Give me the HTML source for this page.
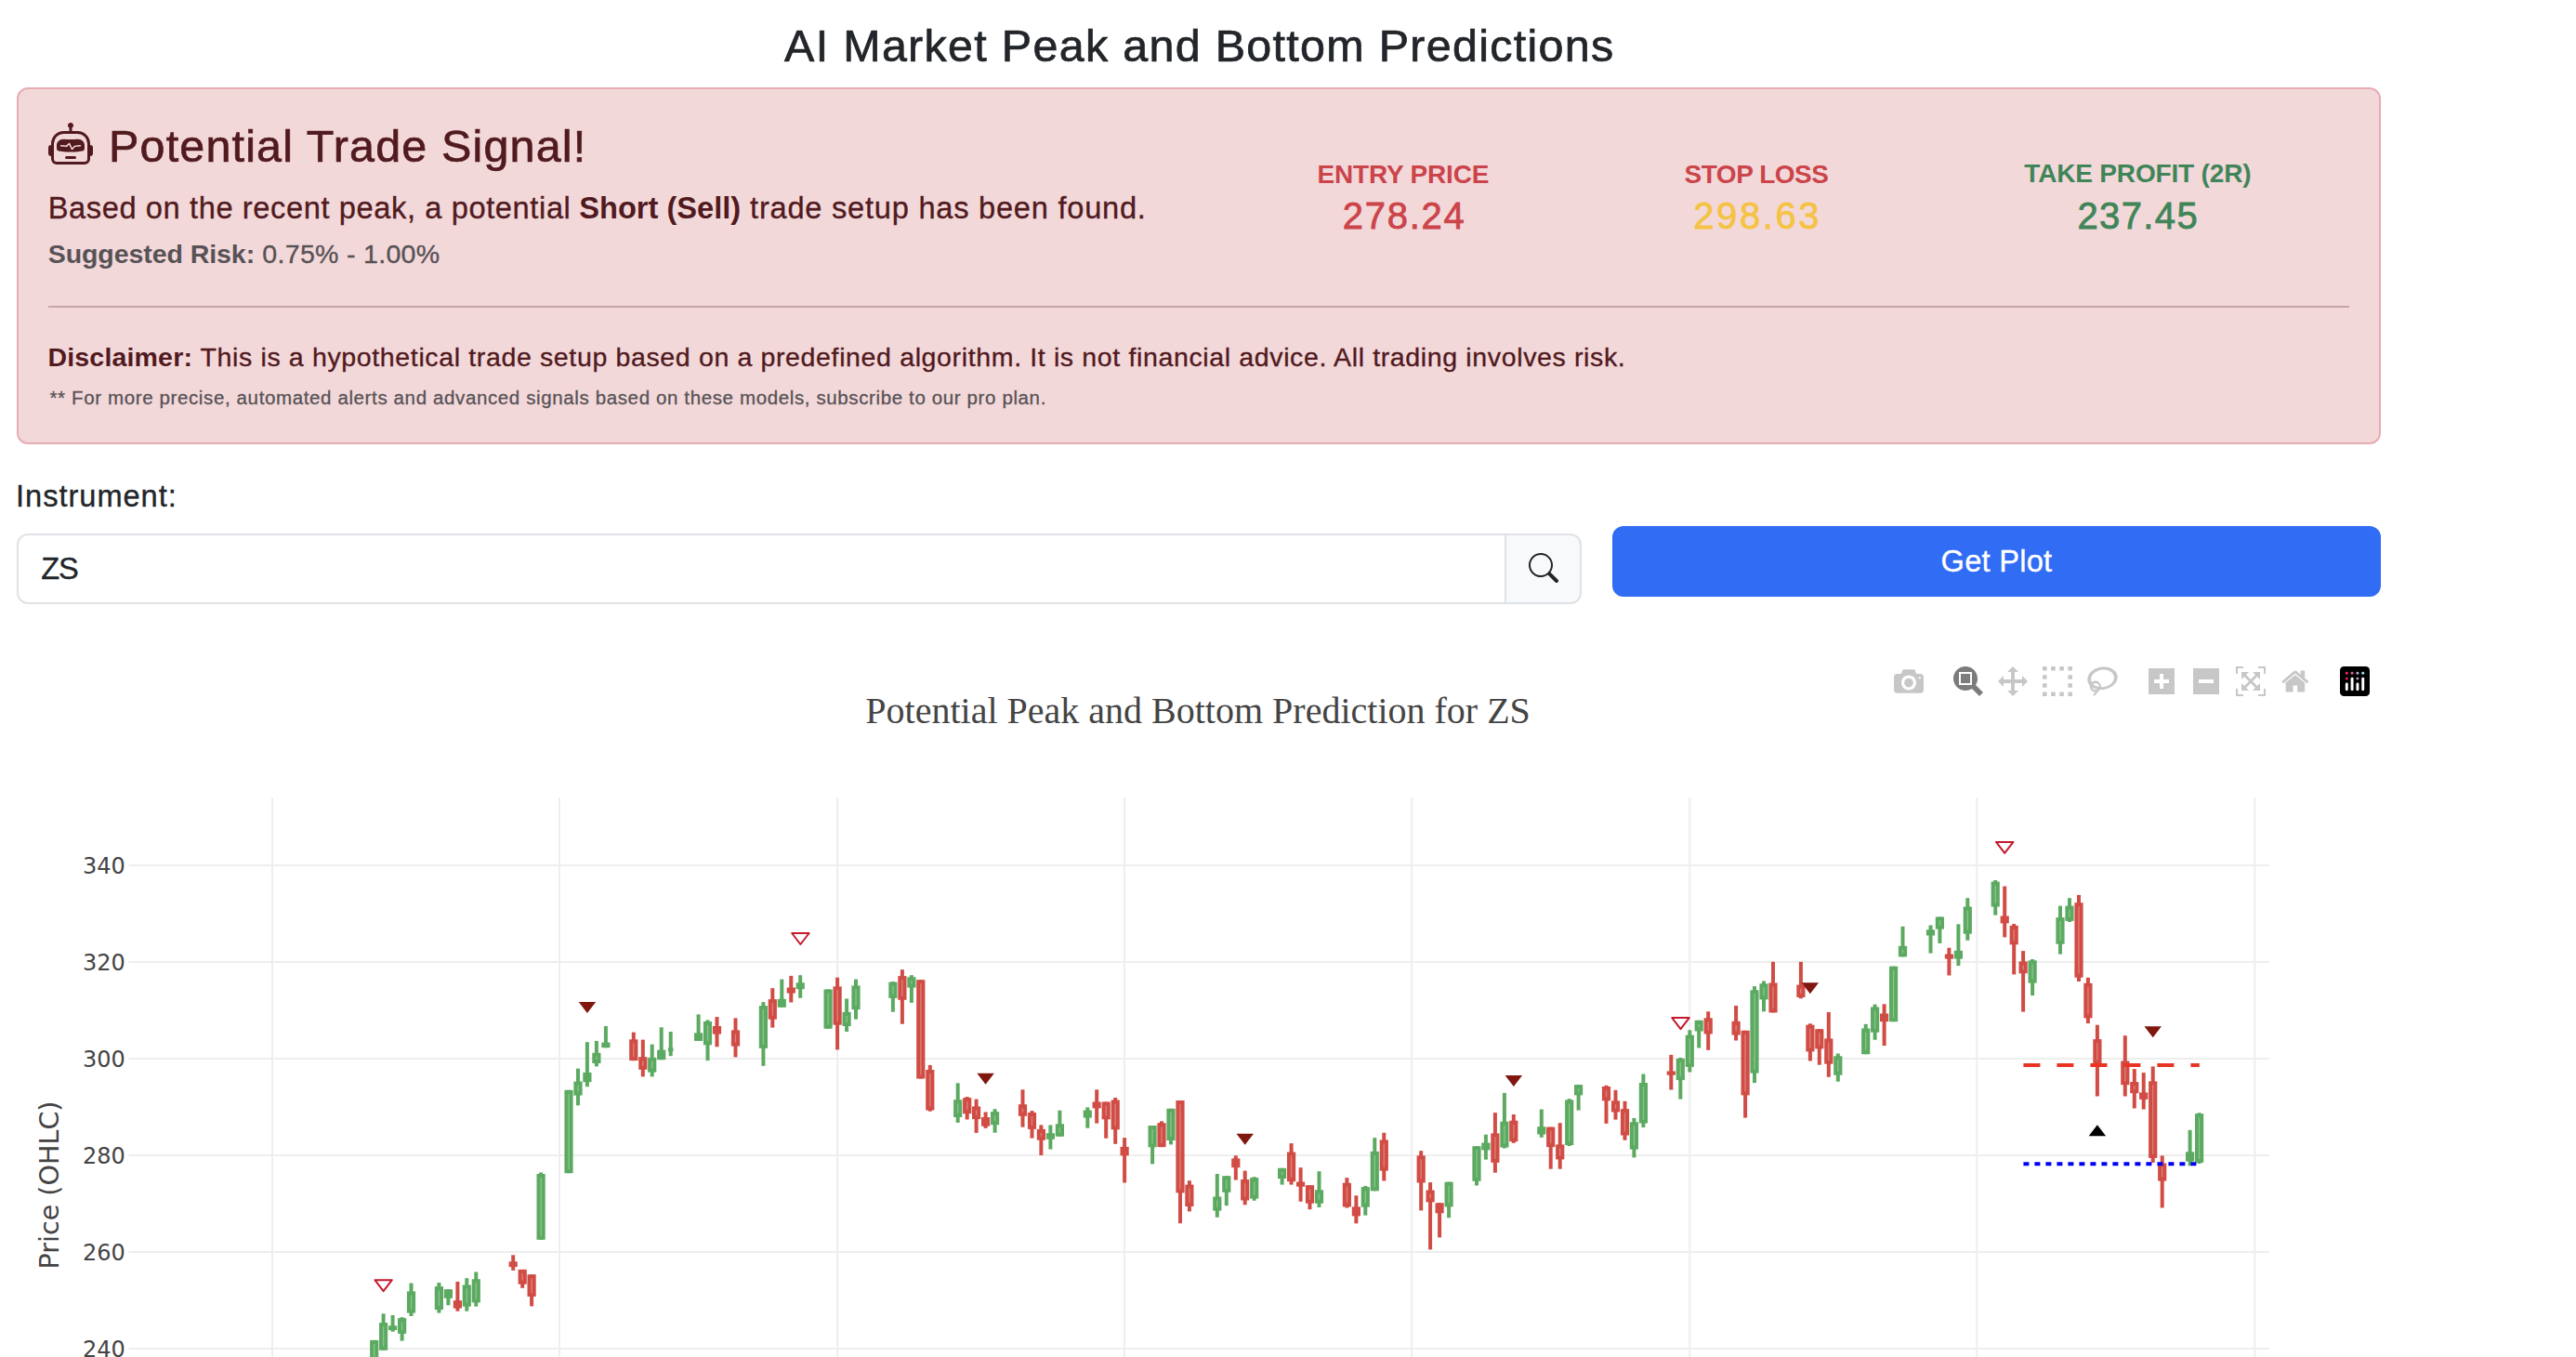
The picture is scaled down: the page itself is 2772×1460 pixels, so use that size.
<!DOCTYPE html>
<html lang="en"><head><meta charset="utf-8"><title>AI Market Peak and Bottom Predictions</title>
<style>
html,body{margin:0;padding:0;background:#fff;}
body{width:2772px;height:1460px;position:relative;overflow:hidden;font-family:"Liberation Sans",Arial,Helvetica,sans-serif;}
.t{position:absolute;white-space:pre;display:block;}
h4,p{margin:0;padding:0;font-weight:normal;font-size:0;}
.alert{position:absolute;left:18px;top:94px;width:2540px;height:380px;border:2px solid #e6adb3;border-radius:12px;background:#f3d8da;}
.robot{position:absolute;left:52px;top:132px;}
.hr{position:absolute;left:52px;top:329px;width:2476px;height:2px;background:#c6a4a8;}
.input{position:absolute;left:18px;top:574px;width:1599px;height:72px;border:2px solid #dfe2e6;border-radius:12px 0 0 12px;background:#fff;}
.addon{position:absolute;left:1619px;top:574px;width:79px;height:72px;border:2px solid #dfe2e6;border-radius:0 12px 12px 0;background:#f8f9fa;}
.addon svg{position:absolute;left:24px;top:19px;}
.btn{position:absolute;left:1735px;top:566px;width:827px;height:76px;border-radius:12px;background:#316cf4;}
.modebar{position:absolute;left:0;top:0;}
.mbtn{position:absolute;top:717px;display:block;height:32px;}
.mbtn svg{display:block;}
</style></head>
<body>
<svg class="chart" width="2772" height="1460" viewBox="0 0 2772 1460" style="position:absolute;left:0;top:0">
<g stroke="#eeeeee" stroke-width="2" fill="none">
<path d="M293.0,858.2V1460"/>
<path d="M602.0,858.2V1460"/>
<path d="M901.1,858.2V1460"/>
<path d="M1210.1,858.2V1460"/>
<path d="M1519.2,858.2V1460"/>
<path d="M1818.3,858.2V1460"/>
<path d="M2127.3,858.2V1460"/>
<path d="M2426.4,858.2V1460"/>
<path d="M138.4,930.9H2441.8"/>
<path d="M138.4,1034.9H2441.8"/>
<path d="M138.4,1138.9H2441.8"/>
<path d="M138.4,1242.9H2441.8"/>
<path d="M138.4,1346.9H2441.8"/>
<path d="M138.4,1450.9H2441.8"/>
</g>
<g class="candles">
<rect x="400.7" y="1441.9" width="4" height="28.1" fill="#5caa61"/>
<rect x="398.1" y="1441.9" width="9.2" height="28.1" fill="#5caa61"/>
<rect x="402.0" y="1445.9" width="1.3" height="20.1" fill="#8cc491"/>
<rect x="410.6" y="1413.4" width="4" height="39.3" fill="#5caa61"/>
<rect x="408.0" y="1423.1" width="9.2" height="29.6" fill="#5caa61"/>
<rect x="412.0" y="1427.1" width="1.3" height="21.6" fill="#8cc491"/>
<rect x="420.6" y="1415.0" width="4" height="17.7" fill="#5caa61"/>
<rect x="418.0" y="1426.3" width="9.2" height="4.8" fill="#5caa61"/>
<rect x="430.6" y="1417.2" width="4" height="25.4" fill="#5caa61"/>
<rect x="428.0" y="1418.2" width="9.2" height="16.7" fill="#5caa61"/>
<rect x="431.9" y="1422.2" width="1.3" height="8.7" fill="#8cc491"/>
<rect x="440.5" y="1380.5" width="4" height="35.5" fill="#5caa61"/>
<rect x="437.9" y="1389.4" width="9.2" height="23.2" fill="#5caa61"/>
<rect x="441.9" y="1393.4" width="1.3" height="15.2" fill="#8cc491"/>
<rect x="470.4" y="1380.0" width="4" height="32.6" fill="#5caa61"/>
<rect x="467.8" y="1384.1" width="9.2" height="25.0" fill="#5caa61"/>
<rect x="471.8" y="1388.1" width="1.3" height="17.0" fill="#8cc491"/>
<rect x="480.4" y="1387.2" width="4" height="17.1" fill="#5caa61"/>
<rect x="477.8" y="1387.2" width="9.2" height="9.6" fill="#5caa61"/>
<rect x="490.4" y="1378.9" width="4" height="31.8" fill="#d04c45"/>
<rect x="487.8" y="1399.2" width="9.2" height="8.4" fill="#d04c45"/>
<rect x="500.3" y="1375.2" width="4" height="35.5" fill="#5caa61"/>
<rect x="497.7" y="1382.5" width="9.2" height="23.2" fill="#5caa61"/>
<rect x="501.7" y="1386.5" width="1.3" height="15.2" fill="#8cc491"/>
<rect x="510.3" y="1368.5" width="4" height="37.2" fill="#5caa61"/>
<rect x="507.7" y="1376.2" width="9.2" height="25.2" fill="#5caa61"/>
<rect x="511.7" y="1380.2" width="1.3" height="17.2" fill="#8cc491"/>
<rect x="550.2" y="1350.3" width="4" height="16.6" fill="#d04c45"/>
<rect x="547.6" y="1357.3" width="9.2" height="5.8" fill="#d04c45"/>
<rect x="560.2" y="1365.9" width="4" height="19.9" fill="#d04c45"/>
<rect x="557.6" y="1365.9" width="9.2" height="15.8" fill="#d04c45"/>
<rect x="561.5" y="1369.9" width="1.3" height="7.8" fill="#de837d"/>
<rect x="570.1" y="1371.2" width="4" height="34.2" fill="#d04c45"/>
<rect x="567.5" y="1371.2" width="9.2" height="23.8" fill="#d04c45"/>
<rect x="571.5" y="1375.2" width="1.3" height="15.8" fill="#de837d"/>
<rect x="580.1" y="1261.5" width="4" height="72.3" fill="#5caa61"/>
<rect x="577.5" y="1263.0" width="9.2" height="70.8" fill="#5caa61"/>
<rect x="581.5" y="1267.0" width="1.3" height="62.8" fill="#8cc491"/>
<rect x="610.0" y="1172.8" width="4" height="89.4" fill="#5caa61"/>
<rect x="607.4" y="1172.8" width="9.2" height="89.4" fill="#5caa61"/>
<rect x="611.4" y="1176.8" width="1.3" height="81.4" fill="#8cc491"/>
<rect x="620.0" y="1149.7" width="4" height="39.6" fill="#5caa61"/>
<rect x="617.4" y="1163.6" width="9.2" height="15.0" fill="#5caa61"/>
<rect x="621.3" y="1167.6" width="1.3" height="7.0" fill="#8cc491"/>
<rect x="629.9" y="1121.2" width="4" height="47.9" fill="#5caa61"/>
<rect x="627.3" y="1153.9" width="9.2" height="10.3" fill="#5caa61"/>
<rect x="639.9" y="1119.9" width="4" height="27.5" fill="#5caa61"/>
<rect x="637.3" y="1132.8" width="9.2" height="11.2" fill="#5caa61"/>
<rect x="641.3" y="1136.8" width="1.3" height="3.2" fill="#8cc491"/>
<rect x="649.9" y="1104.0" width="4" height="23.2" fill="#5caa61"/>
<rect x="647.3" y="1121.6" width="9.2" height="5.6" fill="#5caa61"/>
<rect x="679.8" y="1110.6" width="4" height="30.5" fill="#d04c45"/>
<rect x="677.2" y="1118.3" width="9.2" height="22.8" fill="#d04c45"/>
<rect x="681.1" y="1122.3" width="1.3" height="14.8" fill="#de837d"/>
<rect x="689.8" y="1118.6" width="4" height="39.8" fill="#d04c45"/>
<rect x="687.2" y="1137.2" width="9.2" height="13.6" fill="#d04c45"/>
<rect x="691.1" y="1141.2" width="1.3" height="5.6" fill="#de837d"/>
<rect x="699.7" y="1123.6" width="4" height="34.8" fill="#5caa61"/>
<rect x="697.1" y="1137.8" width="9.2" height="15.9" fill="#5caa61"/>
<rect x="701.1" y="1141.8" width="1.3" height="7.9" fill="#8cc491"/>
<rect x="709.7" y="1105.3" width="4" height="34.9" fill="#5caa61"/>
<rect x="707.1" y="1129.6" width="9.2" height="10.6" fill="#5caa61"/>
<rect x="719.7" y="1110.0" width="4" height="26.2" fill="#5caa61"/>
<rect x="718.9" y="1127.3" width="5.6" height="4.0" fill="#5caa61"/>
<rect x="749.6" y="1091.4" width="4" height="28.5" fill="#5caa61"/>
<rect x="747.0" y="1111.3" width="9.2" height="8.6" fill="#5caa61"/>
<rect x="759.5" y="1097.4" width="4" height="43.7" fill="#5caa61"/>
<rect x="756.9" y="1099.0" width="9.2" height="25.3" fill="#5caa61"/>
<rect x="760.9" y="1103.0" width="1.3" height="17.3" fill="#8cc491"/>
<rect x="769.5" y="1094.1" width="4" height="32.2" fill="#d04c45"/>
<rect x="766.9" y="1104.0" width="9.2" height="8.6" fill="#d04c45"/>
<rect x="789.5" y="1095.4" width="4" height="42.0" fill="#d04c45"/>
<rect x="786.9" y="1108.4" width="9.2" height="17.2" fill="#d04c45"/>
<rect x="790.8" y="1112.4" width="1.3" height="9.2" fill="#de837d"/>
<rect x="819.4" y="1078.1" width="4" height="68.7" fill="#5caa61"/>
<rect x="816.8" y="1082.1" width="9.2" height="45.8" fill="#5caa61"/>
<rect x="820.7" y="1086.1" width="1.3" height="37.8" fill="#8cc491"/>
<rect x="829.3" y="1063.2" width="4" height="42.4" fill="#d04c45"/>
<rect x="826.7" y="1075.1" width="9.2" height="21.6" fill="#d04c45"/>
<rect x="830.7" y="1079.1" width="1.3" height="13.6" fill="#de837d"/>
<rect x="839.3" y="1053.6" width="4" height="30.2" fill="#5caa61"/>
<rect x="836.7" y="1074.8" width="9.2" height="9.0" fill="#5caa61"/>
<rect x="849.3" y="1049.9" width="4" height="28.6" fill="#d04c45"/>
<rect x="846.7" y="1062.5" width="9.2" height="6.1" fill="#d04c45"/>
<rect x="859.2" y="1049.2" width="4" height="24.6" fill="#5caa61"/>
<rect x="856.6" y="1057.3" width="9.2" height="6.9" fill="#5caa61"/>
<rect x="889.1" y="1064.5" width="4" height="42.2" fill="#5caa61"/>
<rect x="886.5" y="1064.5" width="9.2" height="42.2" fill="#5caa61"/>
<rect x="890.5" y="1068.5" width="1.3" height="34.2" fill="#8cc491"/>
<rect x="899.1" y="1051.7" width="4" height="77.7" fill="#d04c45"/>
<rect x="896.5" y="1061.4" width="9.2" height="41.3" fill="#d04c45"/>
<rect x="900.5" y="1065.4" width="1.3" height="33.3" fill="#de837d"/>
<rect x="909.1" y="1074.5" width="4" height="35.5" fill="#5caa61"/>
<rect x="906.5" y="1088.9" width="9.2" height="15.1" fill="#5caa61"/>
<rect x="910.4" y="1092.9" width="1.3" height="7.1" fill="#8cc491"/>
<rect x="919.0" y="1053.6" width="4" height="43.1" fill="#5caa61"/>
<rect x="916.4" y="1060.4" width="9.2" height="25.8" fill="#5caa61"/>
<rect x="920.4" y="1064.4" width="1.3" height="17.8" fill="#8cc491"/>
<rect x="958.9" y="1056.0" width="4" height="32.7" fill="#5caa61"/>
<rect x="956.3" y="1056.6" width="9.2" height="17.3" fill="#5caa61"/>
<rect x="960.3" y="1060.6" width="1.3" height="9.3" fill="#8cc491"/>
<rect x="968.9" y="1043.2" width="4" height="58.5" fill="#d04c45"/>
<rect x="966.3" y="1050.1" width="9.2" height="25.7" fill="#d04c45"/>
<rect x="970.2" y="1054.1" width="1.3" height="17.7" fill="#de837d"/>
<rect x="978.9" y="1049.2" width="4" height="29.7" fill="#5caa61"/>
<rect x="976.3" y="1051.3" width="9.2" height="11.3" fill="#5caa61"/>
<rect x="980.2" y="1055.3" width="1.3" height="3.3" fill="#8cc491"/>
<rect x="988.8" y="1054.2" width="4" height="106.3" fill="#d04c45"/>
<rect x="986.2" y="1054.2" width="9.2" height="106.3" fill="#d04c45"/>
<rect x="990.2" y="1058.2" width="1.3" height="98.3" fill="#de837d"/>
<rect x="998.8" y="1145.9" width="4" height="49.8" fill="#d04c45"/>
<rect x="996.2" y="1151.0" width="9.2" height="43.5" fill="#d04c45"/>
<rect x="1000.1" y="1155.0" width="1.3" height="35.5" fill="#de837d"/>
<rect x="1028.7" y="1165.3" width="4" height="42.6" fill="#5caa61"/>
<rect x="1026.1" y="1183.2" width="9.2" height="18.8" fill="#5caa61"/>
<rect x="1030.1" y="1187.2" width="1.3" height="10.8" fill="#8cc491"/>
<rect x="1038.7" y="1180.1" width="4" height="24.4" fill="#d04c45"/>
<rect x="1036.1" y="1181.1" width="9.2" height="17.1" fill="#d04c45"/>
<rect x="1040.0" y="1185.1" width="1.3" height="9.1" fill="#de837d"/>
<rect x="1048.6" y="1182.6" width="4" height="36.3" fill="#d04c45"/>
<rect x="1046.0" y="1190.4" width="9.2" height="13.7" fill="#d04c45"/>
<rect x="1050.0" y="1194.4" width="1.3" height="5.7" fill="#de837d"/>
<rect x="1058.6" y="1196.4" width="4" height="17.5" fill="#d04c45"/>
<rect x="1056.0" y="1202.0" width="9.2" height="9.7" fill="#d04c45"/>
<rect x="1068.6" y="1193.2" width="4" height="25.5" fill="#5caa61"/>
<rect x="1066.0" y="1196.1" width="9.2" height="14.1" fill="#5caa61"/>
<rect x="1069.9" y="1200.1" width="1.3" height="6.1" fill="#8cc491"/>
<rect x="1098.5" y="1172.3" width="4" height="40.4" fill="#d04c45"/>
<rect x="1095.9" y="1188.2" width="9.2" height="12.6" fill="#d04c45"/>
<rect x="1099.8" y="1192.2" width="1.3" height="4.6" fill="#de837d"/>
<rect x="1108.5" y="1195.1" width="4" height="29.5" fill="#d04c45"/>
<rect x="1105.9" y="1197.0" width="9.2" height="17.9" fill="#d04c45"/>
<rect x="1109.8" y="1201.0" width="1.3" height="9.9" fill="#de837d"/>
<rect x="1118.4" y="1210.4" width="4" height="32.6" fill="#d04c45"/>
<rect x="1115.8" y="1214.9" width="9.2" height="11.8" fill="#d04c45"/>
<rect x="1119.8" y="1218.9" width="1.3" height="3.8" fill="#de837d"/>
<rect x="1128.4" y="1210.4" width="4" height="26.1" fill="#5caa61"/>
<rect x="1125.8" y="1219.2" width="9.2" height="6.6" fill="#5caa61"/>
<rect x="1138.4" y="1194.7" width="4" height="28.0" fill="#5caa61"/>
<rect x="1135.8" y="1209.3" width="9.2" height="13.4" fill="#5caa61"/>
<rect x="1139.7" y="1213.3" width="1.3" height="5.4" fill="#8cc491"/>
<rect x="1168.3" y="1191.4" width="4" height="22.3" fill="#5caa61"/>
<rect x="1165.7" y="1194.5" width="9.2" height="8.1" fill="#5caa61"/>
<rect x="1178.2" y="1172.3" width="4" height="36.3" fill="#d04c45"/>
<rect x="1175.6" y="1185.5" width="9.2" height="6.9" fill="#d04c45"/>
<rect x="1188.2" y="1185.5" width="4" height="39.2" fill="#d04c45"/>
<rect x="1185.6" y="1185.5" width="9.2" height="18.8" fill="#d04c45"/>
<rect x="1189.6" y="1189.5" width="1.3" height="10.8" fill="#de837d"/>
<rect x="1198.2" y="1181.0" width="4" height="49.8" fill="#d04c45"/>
<rect x="1195.6" y="1183.5" width="9.2" height="31.8" fill="#d04c45"/>
<rect x="1199.5" y="1187.5" width="1.3" height="23.8" fill="#de837d"/>
<rect x="1208.1" y="1224.1" width="4" height="48.4" fill="#d04c45"/>
<rect x="1205.5" y="1233.9" width="9.2" height="9.4" fill="#d04c45"/>
<rect x="1238.1" y="1211.0" width="4" height="41.4" fill="#5caa61"/>
<rect x="1235.5" y="1211.0" width="9.2" height="23.3" fill="#5caa61"/>
<rect x="1239.4" y="1215.0" width="1.3" height="15.3" fill="#8cc491"/>
<rect x="1248.0" y="1206.3" width="4" height="27.8" fill="#d04c45"/>
<rect x="1245.4" y="1208.2" width="9.2" height="25.9" fill="#d04c45"/>
<rect x="1249.4" y="1212.2" width="1.3" height="17.9" fill="#de837d"/>
<rect x="1258.0" y="1192.8" width="4" height="38.6" fill="#5caa61"/>
<rect x="1255.4" y="1192.8" width="9.2" height="34.2" fill="#5caa61"/>
<rect x="1259.3" y="1196.8" width="1.3" height="26.2" fill="#8cc491"/>
<rect x="1268.0" y="1184.0" width="4" height="132.2" fill="#d04c45"/>
<rect x="1265.4" y="1184.0" width="9.2" height="99.4" fill="#d04c45"/>
<rect x="1269.3" y="1188.0" width="1.3" height="91.4" fill="#de837d"/>
<rect x="1277.9" y="1270.2" width="4" height="33.2" fill="#d04c45"/>
<rect x="1275.3" y="1274.6" width="9.2" height="23.4" fill="#d04c45"/>
<rect x="1279.3" y="1278.6" width="1.3" height="15.4" fill="#de837d"/>
<rect x="1307.8" y="1263.0" width="4" height="46.7" fill="#5caa61"/>
<rect x="1305.2" y="1287.5" width="9.2" height="15.1" fill="#5caa61"/>
<rect x="1309.2" y="1291.5" width="1.3" height="7.1" fill="#8cc491"/>
<rect x="1317.8" y="1265.2" width="4" height="32.0" fill="#5caa61"/>
<rect x="1315.2" y="1265.2" width="9.2" height="17.6" fill="#5caa61"/>
<rect x="1319.2" y="1269.2" width="1.3" height="9.6" fill="#8cc491"/>
<rect x="1327.8" y="1243.3" width="4" height="26.3" fill="#d04c45"/>
<rect x="1325.2" y="1246.4" width="9.2" height="9.8" fill="#d04c45"/>
<rect x="1337.7" y="1259.6" width="4" height="36.7" fill="#d04c45"/>
<rect x="1335.1" y="1269.0" width="9.2" height="22.5" fill="#d04c45"/>
<rect x="1339.1" y="1273.0" width="1.3" height="14.5" fill="#de837d"/>
<rect x="1347.7" y="1266.2" width="4" height="25.6" fill="#5caa61"/>
<rect x="1345.1" y="1267.1" width="9.2" height="22.5" fill="#5caa61"/>
<rect x="1349.1" y="1271.1" width="1.3" height="14.5" fill="#8cc491"/>
<rect x="1377.6" y="1256.8" width="4" height="17.8" fill="#5caa61"/>
<rect x="1375.0" y="1256.8" width="9.2" height="11.3" fill="#5caa61"/>
<rect x="1379.0" y="1260.8" width="1.3" height="3.3" fill="#8cc491"/>
<rect x="1387.6" y="1230.1" width="4" height="44.5" fill="#d04c45"/>
<rect x="1385.0" y="1239.5" width="9.2" height="31.7" fill="#d04c45"/>
<rect x="1388.9" y="1243.5" width="1.3" height="23.7" fill="#de837d"/>
<rect x="1397.6" y="1256.2" width="4" height="36.6" fill="#d04c45"/>
<rect x="1395.0" y="1271.5" width="9.2" height="5.2" fill="#d04c45"/>
<rect x="1407.5" y="1275.2" width="4" height="26.0" fill="#d04c45"/>
<rect x="1404.9" y="1275.2" width="9.2" height="19.5" fill="#d04c45"/>
<rect x="1408.9" y="1279.2" width="1.3" height="11.5" fill="#de837d"/>
<rect x="1417.5" y="1260.2" width="4" height="38.8" fill="#5caa61"/>
<rect x="1414.9" y="1280.3" width="9.2" height="14.4" fill="#5caa61"/>
<rect x="1418.8" y="1284.3" width="1.3" height="6.4" fill="#8cc491"/>
<rect x="1447.4" y="1267.1" width="4" height="32.4" fill="#d04c45"/>
<rect x="1444.8" y="1272.7" width="9.2" height="25.7" fill="#d04c45"/>
<rect x="1448.8" y="1276.7" width="1.3" height="17.7" fill="#de837d"/>
<rect x="1457.4" y="1286.3" width="4" height="30.0" fill="#d04c45"/>
<rect x="1454.8" y="1298.4" width="9.2" height="10.0" fill="#d04c45"/>
<rect x="1467.3" y="1275.9" width="4" height="31.7" fill="#5caa61"/>
<rect x="1464.7" y="1277.1" width="9.2" height="21.6" fill="#5caa61"/>
<rect x="1468.7" y="1281.1" width="1.3" height="13.6" fill="#8cc491"/>
<rect x="1477.3" y="1224.1" width="4" height="57.2" fill="#5caa61"/>
<rect x="1474.7" y="1238.9" width="9.2" height="42.4" fill="#5caa61"/>
<rect x="1478.7" y="1242.9" width="1.3" height="34.4" fill="#8cc491"/>
<rect x="1487.3" y="1218.8" width="4" height="51.7" fill="#d04c45"/>
<rect x="1484.7" y="1226.4" width="9.2" height="33.2" fill="#d04c45"/>
<rect x="1488.6" y="1230.4" width="1.3" height="25.2" fill="#de837d"/>
<rect x="1527.2" y="1238.2" width="4" height="64.2" fill="#d04c45"/>
<rect x="1524.6" y="1243.3" width="9.2" height="29.2" fill="#d04c45"/>
<rect x="1528.5" y="1247.3" width="1.3" height="21.2" fill="#de837d"/>
<rect x="1537.1" y="1272.1" width="4" height="72.3" fill="#d04c45"/>
<rect x="1534.5" y="1280.5" width="9.2" height="12.9" fill="#d04c45"/>
<rect x="1538.5" y="1284.5" width="1.3" height="4.9" fill="#de837d"/>
<rect x="1547.1" y="1294.3" width="4" height="37.1" fill="#d04c45"/>
<rect x="1544.5" y="1294.3" width="9.2" height="11.0" fill="#d04c45"/>
<rect x="1557.1" y="1271.7" width="4" height="38.6" fill="#5caa61"/>
<rect x="1554.5" y="1271.7" width="9.2" height="26.7" fill="#5caa61"/>
<rect x="1558.4" y="1275.7" width="1.3" height="18.7" fill="#8cc491"/>
<rect x="1587.0" y="1233.2" width="4" height="42.3" fill="#5caa61"/>
<rect x="1584.4" y="1233.2" width="9.2" height="37.6" fill="#5caa61"/>
<rect x="1588.3" y="1237.2" width="1.3" height="29.6" fill="#8cc491"/>
<rect x="1596.9" y="1220.7" width="4" height="26.9" fill="#5caa61"/>
<rect x="1594.3" y="1229.5" width="9.2" height="7.9" fill="#5caa61"/>
<rect x="1606.9" y="1197.1" width="4" height="64.6" fill="#d04c45"/>
<rect x="1604.3" y="1219.4" width="9.2" height="31.4" fill="#d04c45"/>
<rect x="1608.3" y="1223.4" width="1.3" height="23.4" fill="#de837d"/>
<rect x="1616.9" y="1175.9" width="4" height="59.6" fill="#5caa61"/>
<rect x="1614.3" y="1206.7" width="9.2" height="27.8" fill="#5caa61"/>
<rect x="1618.2" y="1210.7" width="1.3" height="19.8" fill="#8cc491"/>
<rect x="1626.8" y="1199.0" width="4" height="30.8" fill="#d04c45"/>
<rect x="1624.2" y="1205.7" width="9.2" height="22.5" fill="#d04c45"/>
<rect x="1628.2" y="1209.7" width="1.3" height="14.5" fill="#de837d"/>
<rect x="1656.8" y="1193.5" width="4" height="30.3" fill="#5caa61"/>
<rect x="1654.2" y="1212.2" width="9.2" height="8.3" fill="#5caa61"/>
<rect x="1666.7" y="1212.6" width="4" height="45.1" fill="#d04c45"/>
<rect x="1664.1" y="1212.6" width="9.2" height="21.5" fill="#d04c45"/>
<rect x="1668.1" y="1216.6" width="1.3" height="13.5" fill="#de837d"/>
<rect x="1676.7" y="1208.2" width="4" height="49.5" fill="#d04c45"/>
<rect x="1674.1" y="1231.4" width="9.2" height="16.0" fill="#d04c45"/>
<rect x="1678.0" y="1235.4" width="1.3" height="8.0" fill="#de837d"/>
<rect x="1686.7" y="1182.2" width="4" height="50.8" fill="#5caa61"/>
<rect x="1684.1" y="1183.4" width="9.2" height="48.6" fill="#5caa61"/>
<rect x="1688.0" y="1187.4" width="1.3" height="40.6" fill="#8cc491"/>
<rect x="1696.6" y="1167.1" width="4" height="27.5" fill="#5caa61"/>
<rect x="1694.0" y="1167.1" width="9.2" height="11.3" fill="#5caa61"/>
<rect x="1698.0" y="1171.1" width="1.3" height="3.3" fill="#8cc491"/>
<rect x="1726.5" y="1167.8" width="4" height="41.1" fill="#d04c45"/>
<rect x="1723.9" y="1169.0" width="9.2" height="15.3" fill="#d04c45"/>
<rect x="1727.9" y="1173.0" width="1.3" height="7.3" fill="#de837d"/>
<rect x="1736.5" y="1172.8" width="4" height="31.8" fill="#d04c45"/>
<rect x="1733.9" y="1184.3" width="9.2" height="12.2" fill="#d04c45"/>
<rect x="1737.9" y="1188.3" width="1.3" height="4.2" fill="#de837d"/>
<rect x="1746.5" y="1184.7" width="4" height="42.0" fill="#d04c45"/>
<rect x="1743.9" y="1193.1" width="9.2" height="28.4" fill="#d04c45"/>
<rect x="1747.8" y="1197.1" width="1.3" height="20.4" fill="#de837d"/>
<rect x="1756.4" y="1202.9" width="4" height="42.5" fill="#5caa61"/>
<rect x="1753.8" y="1207.3" width="9.2" height="29.3" fill="#5caa61"/>
<rect x="1757.8" y="1211.3" width="1.3" height="21.3" fill="#8cc491"/>
<rect x="1766.4" y="1155.5" width="4" height="57.5" fill="#5caa61"/>
<rect x="1763.8" y="1165.0" width="9.2" height="43.5" fill="#5caa61"/>
<rect x="1767.8" y="1169.0" width="1.3" height="35.5" fill="#8cc491"/>
<rect x="1796.3" y="1134.9" width="4" height="37.6" fill="#d04c45"/>
<rect x="1793.7" y="1152.5" width="9.2" height="4.2" fill="#d04c45"/>
<rect x="1806.3" y="1138.0" width="4" height="44.6" fill="#5caa61"/>
<rect x="1803.7" y="1138.9" width="9.2" height="23.2" fill="#5caa61"/>
<rect x="1807.6" y="1142.9" width="1.3" height="15.2" fill="#8cc491"/>
<rect x="1816.3" y="1108.3" width="4" height="45.2" fill="#5caa61"/>
<rect x="1813.7" y="1113.7" width="9.2" height="34.2" fill="#5caa61"/>
<rect x="1817.6" y="1117.7" width="1.3" height="26.2" fill="#8cc491"/>
<rect x="1826.2" y="1097.8" width="4" height="29.7" fill="#5caa61"/>
<rect x="1823.6" y="1097.8" width="9.2" height="11.7" fill="#5caa61"/>
<rect x="1827.6" y="1101.8" width="1.3" height="3.7" fill="#8cc491"/>
<rect x="1836.2" y="1088.3" width="4" height="41.5" fill="#d04c45"/>
<rect x="1833.6" y="1095.3" width="9.2" height="17.2" fill="#d04c45"/>
<rect x="1837.5" y="1099.3" width="1.3" height="9.2" fill="#de837d"/>
<rect x="1866.1" y="1082.0" width="4" height="37.5" fill="#d04c45"/>
<rect x="1863.5" y="1098.8" width="9.2" height="14.7" fill="#d04c45"/>
<rect x="1867.5" y="1102.8" width="1.3" height="6.7" fill="#de837d"/>
<rect x="1876.1" y="1108.8" width="4" height="93.8" fill="#d04c45"/>
<rect x="1873.5" y="1108.8" width="9.2" height="69.6" fill="#d04c45"/>
<rect x="1877.4" y="1112.8" width="1.3" height="61.6" fill="#de837d"/>
<rect x="1886.0" y="1061.1" width="4" height="104.0" fill="#5caa61"/>
<rect x="1883.4" y="1065.3" width="9.2" height="89.3" fill="#5caa61"/>
<rect x="1887.4" y="1069.3" width="1.3" height="81.3" fill="#8cc491"/>
<rect x="1896.0" y="1055.5" width="4" height="32.8" fill="#5caa61"/>
<rect x="1893.4" y="1058.3" width="9.2" height="17.1" fill="#5caa61"/>
<rect x="1897.4" y="1062.3" width="1.3" height="9.1" fill="#8cc491"/>
<rect x="1906.0" y="1034.8" width="4" height="54.6" fill="#d04c45"/>
<rect x="1903.4" y="1057.5" width="9.2" height="31.9" fill="#d04c45"/>
<rect x="1907.3" y="1061.5" width="1.3" height="23.9" fill="#de837d"/>
<rect x="1935.9" y="1034.8" width="4" height="39.5" fill="#d04c45"/>
<rect x="1933.3" y="1059.6" width="9.2" height="13.4" fill="#d04c45"/>
<rect x="1937.2" y="1063.6" width="1.3" height="5.4" fill="#de837d"/>
<rect x="1945.9" y="1101.3" width="4" height="40.2" fill="#d04c45"/>
<rect x="1943.3" y="1102.7" width="9.2" height="28.7" fill="#d04c45"/>
<rect x="1947.2" y="1106.7" width="1.3" height="20.7" fill="#de837d"/>
<rect x="1955.8" y="1107.2" width="4" height="38.5" fill="#d04c45"/>
<rect x="1953.2" y="1107.2" width="9.2" height="21.2" fill="#d04c45"/>
<rect x="1957.2" y="1111.2" width="1.3" height="13.2" fill="#de837d"/>
<rect x="1965.8" y="1089.0" width="4" height="69.8" fill="#d04c45"/>
<rect x="1963.2" y="1117.4" width="9.2" height="27.3" fill="#d04c45"/>
<rect x="1967.1" y="1121.4" width="1.3" height="19.3" fill="#de837d"/>
<rect x="1975.8" y="1133.5" width="4" height="30.2" fill="#5caa61"/>
<rect x="1973.2" y="1136.3" width="9.2" height="20.4" fill="#5caa61"/>
<rect x="1977.1" y="1140.3" width="1.3" height="12.4" fill="#8cc491"/>
<rect x="2005.7" y="1101.8" width="4" height="32.4" fill="#5caa61"/>
<rect x="2003.1" y="1106.5" width="9.2" height="27.7" fill="#5caa61"/>
<rect x="2007.0" y="1110.5" width="1.3" height="19.7" fill="#8cc491"/>
<rect x="2015.6" y="1080.6" width="4" height="38.2" fill="#5caa61"/>
<rect x="2013.0" y="1083.5" width="9.2" height="27.2" fill="#5caa61"/>
<rect x="2017.0" y="1087.5" width="1.3" height="19.2" fill="#8cc491"/>
<rect x="2025.6" y="1080.3" width="4" height="44.8" fill="#d04c45"/>
<rect x="2023.0" y="1090.5" width="9.2" height="8.7" fill="#d04c45"/>
<rect x="2035.6" y="1039.7" width="4" height="59.5" fill="#5caa61"/>
<rect x="2033.0" y="1039.7" width="9.2" height="59.5" fill="#5caa61"/>
<rect x="2036.9" y="1043.7" width="1.3" height="51.5" fill="#8cc491"/>
<rect x="2045.5" y="996.8" width="4" height="32.6" fill="#5caa61"/>
<rect x="2042.9" y="1017.8" width="9.2" height="11.6" fill="#5caa61"/>
<rect x="2046.9" y="1021.8" width="1.3" height="3.6" fill="#8cc491"/>
<rect x="2075.5" y="995.5" width="4" height="30.1" fill="#5caa61"/>
<rect x="2072.9" y="1000.3" width="9.2" height="6.2" fill="#5caa61"/>
<rect x="2085.4" y="986.5" width="4" height="28.4" fill="#5caa61"/>
<rect x="2082.8" y="986.5" width="9.2" height="13.1" fill="#5caa61"/>
<rect x="2086.8" y="990.5" width="1.3" height="5.1" fill="#8cc491"/>
<rect x="2095.4" y="1019.7" width="4" height="29.8" fill="#d04c45"/>
<rect x="2092.8" y="1026.6" width="9.2" height="5.0" fill="#d04c45"/>
<rect x="2105.4" y="994.3" width="4" height="44.8" fill="#5caa61"/>
<rect x="2102.8" y="1022.8" width="9.2" height="8.8" fill="#5caa61"/>
<rect x="2115.3" y="966.2" width="4" height="45.6" fill="#5caa61"/>
<rect x="2112.7" y="975.5" width="9.2" height="29.2" fill="#5caa61"/>
<rect x="2116.7" y="979.5" width="1.3" height="21.2" fill="#8cc491"/>
<rect x="2145.2" y="947.0" width="4" height="37.6" fill="#5caa61"/>
<rect x="2142.6" y="948.6" width="9.2" height="27.0" fill="#5caa61"/>
<rect x="2146.6" y="952.6" width="1.3" height="19.0" fill="#8cc491"/>
<rect x="2155.2" y="953.5" width="4" height="54.9" fill="#d04c45"/>
<rect x="2152.6" y="985.5" width="9.2" height="7.9" fill="#d04c45"/>
<rect x="2165.2" y="994.0" width="4" height="54.4" fill="#d04c45"/>
<rect x="2162.6" y="995.9" width="9.2" height="20.4" fill="#d04c45"/>
<rect x="2166.5" y="999.9" width="1.3" height="12.4" fill="#de837d"/>
<rect x="2175.1" y="1023.1" width="4" height="65.5" fill="#d04c45"/>
<rect x="2172.5" y="1034.4" width="9.2" height="12.9" fill="#d04c45"/>
<rect x="2176.5" y="1038.4" width="1.3" height="4.9" fill="#de837d"/>
<rect x="2185.1" y="1032.0" width="4" height="39.1" fill="#5caa61"/>
<rect x="2182.5" y="1033.3" width="9.2" height="24.3" fill="#5caa61"/>
<rect x="2186.5" y="1037.3" width="1.3" height="16.3" fill="#8cc491"/>
<rect x="2215.0" y="974.6" width="4" height="52.0" fill="#5caa61"/>
<rect x="2212.4" y="987.1" width="9.2" height="28.6" fill="#5caa61"/>
<rect x="2216.4" y="991.1" width="1.3" height="20.6" fill="#8cc491"/>
<rect x="2225.0" y="966.2" width="4" height="25.8" fill="#5caa61"/>
<rect x="2222.4" y="974.6" width="9.2" height="16.3" fill="#5caa61"/>
<rect x="2226.3" y="978.6" width="1.3" height="8.3" fill="#8cc491"/>
<rect x="2235.0" y="962.9" width="4" height="93.1" fill="#d04c45"/>
<rect x="2232.4" y="971.2" width="9.2" height="80.5" fill="#d04c45"/>
<rect x="2236.3" y="975.2" width="1.3" height="72.5" fill="#de837d"/>
<rect x="2244.9" y="1051.8" width="4" height="49.3" fill="#d04c45"/>
<rect x="2242.3" y="1057.8" width="9.2" height="37.6" fill="#d04c45"/>
<rect x="2246.3" y="1061.8" width="1.3" height="29.6" fill="#de837d"/>
<rect x="2254.9" y="1102.7" width="4" height="76.8" fill="#d04c45"/>
<rect x="2252.3" y="1118.1" width="9.2" height="26.6" fill="#d04c45"/>
<rect x="2256.2" y="1122.1" width="1.3" height="18.6" fill="#de837d"/>
<rect x="2284.8" y="1114.2" width="4" height="65.3" fill="#d04c45"/>
<rect x="2282.2" y="1141.5" width="9.2" height="25.7" fill="#d04c45"/>
<rect x="2286.2" y="1145.5" width="1.3" height="17.7" fill="#de837d"/>
<rect x="2294.8" y="1150.1" width="4" height="42.4" fill="#d04c45"/>
<rect x="2292.2" y="1164.1" width="9.2" height="12.1" fill="#d04c45"/>
<rect x="2296.1" y="1168.1" width="1.3" height="4.1" fill="#de837d"/>
<rect x="2304.7" y="1154.1" width="4" height="39.4" fill="#d04c45"/>
<rect x="2302.1" y="1175.4" width="9.2" height="7.5" fill="#d04c45"/>
<rect x="2314.7" y="1147.4" width="4" height="103.5" fill="#d04c45"/>
<rect x="2312.1" y="1163.4" width="9.2" height="82.5" fill="#d04c45"/>
<rect x="2316.1" y="1167.4" width="1.3" height="74.5" fill="#de837d"/>
<rect x="2324.7" y="1243.4" width="4" height="56.1" fill="#d04c45"/>
<rect x="2322.1" y="1251.5" width="9.2" height="19.1" fill="#d04c45"/>
<rect x="2326.0" y="1255.5" width="1.3" height="11.1" fill="#de837d"/>
<rect x="2354.6" y="1215.8" width="4" height="38.5" fill="#5caa61"/>
<rect x="2352.0" y="1239.3" width="9.2" height="10.3" fill="#5caa61"/>
<rect x="2364.6" y="1197.3" width="4" height="54.7" fill="#5caa61"/>
<rect x="2362.0" y="1198.2" width="9.2" height="52.7" fill="#5caa61"/>
<rect x="2365.9" y="1202.2" width="1.3" height="44.7" fill="#8cc491"/>
</g>
<path d="M2177.4,1145.9H2366.8" stroke="#ea3323" stroke-width="4" stroke-dasharray="18,18" fill="none"/>
<path d="M2177.4,1252.3H2366.8" stroke="#0000f5" stroke-width="4" stroke-dasharray="6,6" fill="none"/>
<path d="M403.36,1377.20H421.84L412.60,1389.20Z" fill="none" stroke="#c5192d" stroke-width="2" stroke-linejoin="round"/>
<path d="M852.16,1004.00H870.64L861.40,1016.00Z" fill="none" stroke="#c5192d" stroke-width="2" stroke-linejoin="round"/>
<path d="M1799.26,1095.10H1817.74L1808.50,1107.10Z" fill="none" stroke="#c5192d" stroke-width="2" stroke-linejoin="round"/>
<path d="M2147.96,905.90H2166.44L2157.20,917.90Z" fill="none" stroke="#c5192d" stroke-width="2" stroke-linejoin="round"/>
<path d="M622.71,1077.90H641.18L631.95,1089.90Z" fill="#7f170e"/>
<path d="M1051.38,1154.70H1069.85L1060.61,1166.70Z" fill="#7f170e"/>
<path d="M1330.51,1219.80H1348.98L1339.74,1231.80Z" fill="#7f170e"/>
<path d="M1619.61,1157.10H1638.08L1628.85,1169.10Z" fill="#7f170e"/>
<path d="M1938.62,1057.20H1957.09L1947.85,1069.20Z" fill="#7f170e"/>
<path d="M2307.47,1104.20H2325.94L2316.71,1116.20Z" fill="#7f170e"/>
<path d="M2247.66,1222.20H2266.13L2256.89,1210.20Z" fill="#000"/>
<g font-family="'DejaVu Sans', Verdana, sans-serif" font-size="24" fill="#444444" text-anchor="end">
<text x="134.7" y="939.7">340</text>
<text x="134.7" y="1043.7">320</text>
<text x="134.7" y="1147.7">300</text>
<text x="134.7" y="1251.7">280</text>
<text x="134.7" y="1355.7">260</text>
<text x="134.7" y="1459.7">240</text>
</g>
<text transform="translate(63,1275) rotate(-90)" text-anchor="middle" font-family="'DejaVu Sans', Verdana, sans-serif" font-size="28.6" fill="#444444">Price (OHLC)</text>
<text x="1289.1" y="777.8" text-anchor="middle" font-family="'Liberation Serif', 'Times New Roman', serif" font-size="40" fill="#444444">Potential Peak and Bottom Prediction for ZS</text>
</svg>
<h4 class="pagetitle"><span class="t" id="title" style="left:844.10px;top:25.26px;font-size:48.48px;line-height:48.48px;letter-spacing:1.287px;-webkit-text-stroke:0.7px;color:#222529;">AI Market Peak and Bottom Predictions</span></h4>
<div class="alert" role="alert"></div>
<svg class="robot" viewBox="0 0 16 16" width="48" height="48" fill="#511a1e"><path d="M6 12.5a.5.5 0 0 1 .5-.5h3a.5.5 0 0 1 0 1h-3a.5.5 0 0 1-.5-.5M3 8.062C3 6.76 4.235 5.765 5.53 5.886a26.6 26.6 0 0 0 4.94 0C11.765 5.765 13 6.76 13 8.062v1.157a.93.93 0 0 1-.765.935c-.845.147-2.34.346-4.235.346s-3.39-.2-4.235-.346A.93.93 0 0 1 3 9.219zm4.542-.827a.25.25 0 0 0-.217.068l-.92.9a25 25 0 0 1-1.871-.183.25.25 0 0 0-.068.495c.55.076 1.232.149 2.02.193a.25.25 0 0 0 .189-.071l.754-.736.847 1.71a.25.25 0 0 0 .404.062l.932-.97a25 25 0 0 0 1.922-.188.25.25 0 0 0-.068-.495c-.538.074-1.207.145-1.98.189a.25.25 0 0 0-.166.076l-.754.785-.842-1.7a.25.25 0 0 0-.182-.135"/><path d="M8.5 1.866a1 1 0 1 0-1 0V3h-2A4.5 4.5 0 0 0 1 7.5V8a1 1 0 0 0-1 1v2a1 1 0 0 0 1 1v1a2 2 0 0 0 2 2h10a2 2 0 0 0 2-2v-1a1 1 0 0 0 1-1V9a1 1 0 0 0-1-1v-.5A4.5 4.5 0 0 0 10.5 3h-2zM14 7.5V13a1 1 0 0 1-1 1H3a1 1 0 0 1-1-1V7.5A3.5 3.5 0 0 1 5.5 4h5A3.5 3.5 0 0 1 14 7.5"/></svg>
<span class="t" id="head" style="left:117.10px;top:132.86px;font-size:48.48px;line-height:48.48px;letter-spacing:1.155px;-webkit-text-stroke:0.7px;color:#511a1e;">Potential Trade Signal!</span>
<p><span class="t" id="l2a" style="left:51.70px;top:208.17px;font-size:32.64px;line-height:32.64px;letter-spacing:0.602px;-webkit-text-stroke:0.35px;color:#511a1e;">Based on the recent peak, a potential</span><span class="t" id="l2b" style="left:623.30px;top:208.17px;font-size:32.64px;line-height:32.64px;letter-spacing:-0.016px;-webkit-text-stroke:0px;color:#511a1e;font-weight:bold;">Short (Sell)</span><span class="t" id="l2c" style="left:807.10px;top:208.17px;font-size:32.64px;line-height:32.64px;letter-spacing:0.750px;-webkit-text-stroke:0.35px;color:#511a1e;">trade setup has been found.</span></p>
<p><span class="t" id="l3a" style="left:51.70px;top:259.42px;font-size:28.56px;line-height:28.56px;letter-spacing:-0.085px;-webkit-text-stroke:0px;color:#575255;font-weight:bold;">Suggested Risk:</span><span class="t" id="l3b" style="left:282.30px;top:259.42px;font-size:28.56px;line-height:28.56px;letter-spacing:0.301px;-webkit-text-stroke:0.35px;color:#575255;">0.75% - 1.00%</span></p>
<span class="t" id="e1" style="left:1417.50px;top:173.70px;font-size:28.0px;line-height:28.0px;letter-spacing:-0.180px;-webkit-text-stroke:0px;color:#cb444a;font-weight:bold;">ENTRY PRICE</span>
<span class="t" id="e2" style="left:1444.70px;top:212.04px;font-size:40.0px;line-height:40.0px;letter-spacing:1.740px;-webkit-text-stroke:0.8px;color:#cb444a;">278.24</span>
<span class="t" id="s1" style="left:1812.50px;top:173.70px;font-size:28.0px;line-height:28.0px;letter-spacing:-0.475px;-webkit-text-stroke:0px;color:#cb444a;font-weight:bold;">STOP LOSS</span>
<span class="t" id="s2" style="left:1822.30px;top:212.04px;font-size:40.0px;line-height:40.0px;letter-spacing:2.560px;-webkit-text-stroke:0.8px;color:#f5c344;">298.63</span>
<span class="t" id="p1" style="left:2178.30px;top:173.30px;font-size:28.0px;line-height:28.0px;letter-spacing:-0.171px;-webkit-text-stroke:0px;color:#408558;font-weight:bold;">TAKE PROFIT (2R)</span>
<span class="t" id="p2" style="left:2235.50px;top:212.04px;font-size:40.0px;line-height:40.0px;letter-spacing:1.360px;-webkit-text-stroke:0.8px;color:#408558;">237.45</span>
<div class="hr"></div>
<p><span class="t" id="da" style="left:51.50px;top:369.52px;font-size:28.56px;line-height:28.56px;letter-spacing:0.150px;-webkit-text-stroke:0px;color:#511a1e;font-weight:bold;">Disclaimer:</span><span class="t" id="db" style="left:215.50px;top:369.52px;font-size:28.56px;line-height:28.56px;letter-spacing:0.620px;-webkit-text-stroke:0.35px;color:#511a1e;">This is a hypothetical trade setup based on a predefined algorithm. It is not financial advice. All trading involves risk.</span></p>
<span class="t" id="foot" style="left:53.50px;top:417.55px;font-size:20.5px;line-height:20.5px;letter-spacing:0.624px;-webkit-text-stroke:0.3px;color:#575255;">** For more precise, automated alerts and advanced signals based on these models, subscribe to our pro plan.</span>
<span class="t" id="inst" style="left:17.10px;top:517.57px;font-size:32.64px;line-height:32.64px;letter-spacing:0.950px;-webkit-text-stroke:0.35px;color:#222529;">Instrument:</span>
<div class="input"></div><div class="addon"><svg viewBox="0 0 16 16" width="32" height="32" fill="#222529"><path d="M11.742 10.344a6.5 6.5 0 1 0-1.397 1.398h-.001q.044.06.098.115l3.85 3.85a1 1 0 0 0 1.415-1.414l-3.85-3.85a1 1 0 0 0-.115-.1zM12 6.5a5.5 5.5 0 1 1-11 0 5.5 5.5 0 0 1 11 0"/></svg></div>
<span class="t" id="zs" style="left:44.30px;top:595.77px;font-size:32.64px;line-height:32.64px;letter-spacing:-1.300px;-webkit-text-stroke:0.35px;color:#222529;">ZS</span>
<div class="btn"></div>
<span class="t" id="gp" style="left:2088.50px;top:587.67px;font-size:32.64px;line-height:32.64px;letter-spacing:0.257px;-webkit-text-stroke:0.35px;color:#fff;">Get Plot</span>
<div class="modebar"><a class="mbtn" style="left:2038.0px"><svg viewBox="0 0 1000 1000" width="32.00" height="32"><path d="m500 450c-83 0-150-67-150-150 0-83 67-150 150-150 83 0 150 67 150 150 0 83-67 150-150 150z m400 150h-120c-16 0-34 13-39 29l-31 93c-6 15-23 28-40 28h-340c-16 0-34-13-39-28l-31-94c-6-15-23-28-40-28h-120c-55 0-100-45-100-100v-450c0-55 45-100 100-100h800c55 0 100 45 100 100v450c0 55-45 100-100 100z m-400-550c-138 0-250 112-250 250 0 138 112 250 250 250 138 0 250-112 250-250 0-138-112-250-250-250z m365 380c-19 0-35 16-35 35 0 19 16 35 35 35 19 0 35-16 35-35 0-19-16-35-35-35z" transform="matrix(1 0 0 -1 0 850)" fill="#c7c7c7"/></svg></a>
<a class="mbtn" style="left:2102.0px"><svg viewBox="0 0 1000 1000" width="32.00" height="32"><path d="m1000-25l-250 251c40 63 63 138 63 218 0 224-182 406-407 406-224 0-406-182-406-406s183-406 407-406c80 0 155 22 218 62l250-250 125 125z m-812 250l0 438 437 0 0-438-437 0z m62 375l313 0 0-312-313 0 0 312z" transform="matrix(1 0 0 -1 0 850)" fill="#7c7c7c"/></svg></a>
<a class="mbtn" style="left:2150.0px"><svg viewBox="0 0 1000 1000" width="32.00" height="32"><path d="m1000 350l-187 188 0-125-250 0 0 250 125 0-188 187-187-187 125 0 0-250-250 0 0 125-188-188 186-187 0 125 252 0 0-250-125 0 187-188 188 188-125 0 0 250 250 0 0-126 187 188z" transform="matrix(1 0 0 -1 0 850)" fill="#c7c7c7"/></svg></a>
<a class="mbtn" style="left:2198.0px"><svg viewBox="0 0 1000 1000" width="32.00" height="32"><path d="m0 850l0-143 143 0 0 143-143 0z m286 0l0-143 143 0 0 143-143 0z m285 0l0-143 143 0 0 143-143 0z m286 0l0-143 143 0 0 143-143 0z m-857-286l0-143 143 0 0 143-143 0z m857 0l0-143 143 0 0 143-143 0z m-857-285l0-143 143 0 0 143-143 0z m857 0l0-143 143 0 0 143-143 0z m-857-286l0-143 143 0 0 143-143 0z m286 0l0-143 143 0 0 143-143 0z m285 0l0-143 143 0 0 143-143 0z m286 0l0-143 143 0 0 143-143 0z" transform="matrix(1 0 0 -1 0 850)" fill="#c7c7c7"/></svg></a>
<a class="mbtn" style="left:2246.0px"><svg viewBox="0 0 1031 1000" width="32.99" height="32"><path d="m1018 538c-36 207-290 336-568 286-277-48-473-256-436-463 10-57 36-108 76-151-13-66 11-137 68-183 34-28 75-41 114-42l-55-70 0 0c-2-1-3-2-4-3-10-14-8-34 5-45 14-11 34-8 45 4 1 1 2 3 2 5l0 0 113 140c16 11 31 24 45 40 4 3 6 7 8 11 48-3 100 0 151 9 278 48 473 255 436 462z m-624-379c-80 14-149 48-197 96 42 42 109 47 156 9 33-26 47-66 41-105z m-187-74c-19 16-33 37-39 60 50-32 109-55 174-68-42-25-95-24-135 8z m360 75c-34-7-69-9-102-8 8 62-16 128-68 170-73 59-175 54-244-5-9 20-16 40-20 61-28 159 121 317 333 354s407-60 434-217c28-159-121-318-333-355z" transform="matrix(1 0 0 -1 0 850)" fill="#c7c7c7"/></svg></a>
<a class="mbtn" style="left:2312.0px"><svg viewBox="0 0 875 1000" width="28.00" height="32"><path d="m1 787l0-875 875 0 0 875-875 0z m687-500l-187 0 0-187-125 0 0 187-188 0 0 125 188 0 0 187 125 0 0-187 187 0 0-125z" transform="matrix(1 0 0 -1 0 850)" fill="#c7c7c7"/></svg></a>
<a class="mbtn" style="left:2360.0px"><svg viewBox="0 0 875 1000" width="28.00" height="32"><path d="m0 788l0-876 875 0 0 876-875 0z m688-500l-500 0 0 125 500 0 0-125z" transform="matrix(1 0 0 -1 0 850)" fill="#c7c7c7"/></svg></a>
<a class="mbtn" style="left:2406.0px"><svg viewBox="0 0 1000 1000" width="32.00" height="32"><path d="m250 850l-187 0-63 0 0-62 0-188 63 0 0 188 187 0 0 62z m688 0l-188 0 0-62 188 0 0-188 62 0 0 188 0 62-62 0z m-875-938l0 188-63 0 0-188 0-62 63 0 187 0 0 62-187 0z m875 188l0-188-188 0 0-62 188 0 62 0 0 62 0 188-62 0z m-125 188l-1 0-93-94-156 156 156 156 92-93 2 0 0 250-250 0 0-2 93-92-156-156-156 156 94 92 0 2-250 0 0-250 0 0 93 93 157-156-157-156-93 94 0 0 0-250 250 0 0 0-94 93 156 157 156-157-93-93 0 0 250 0 0 250z" transform="matrix(1 0 0 -1 0 850)" fill="#c7c7c7"/></svg></a>
<a class="mbtn" style="left:2455.4px"><svg viewBox="0 0 928.6 1000" width="29.72" height="32"><path d="m786 296v-267q0-15-11-26t-25-10h-214v214h-143v-214h-214q-15 0-25 10t-11 26v267q0 1 0 2t0 2l321 264 321-264q1-1 1-4z m124 39l-34-41q-5-5-12-6h-2q-7 0-12 3l-386 322-386-322q-7-4-13-4-7 2-12 7l-35 41q-4 5-3 13t6 12l401 334q18 15 42 15t43-15l136-114v109q0 8 5 13t13 5h107q8 0 13-5t5-13v-227l122-102q5-5 6-12t-4-13z" transform="matrix(1 0 0 -1 0 850)" fill="#c7c7c7"/></svg></a>
<a class="mbtn" style="left:2518px"><svg viewBox="0 0 132 132" width="32" height="32"><rect x="0" y="0" width="132" height="132" rx="18" ry="18" fill="#000"/><circle fill="#9EF" cx="102" cy="30" r="6"/><circle fill="#BAC" cx="78" cy="30" r="6"/><circle fill="#BAC" cx="78" cy="54" r="6"/><circle fill="#D69" cx="54" cy="30" r="6"/><circle fill="#F26" cx="30" cy="30" r="6"/><circle fill="#F26" cx="30" cy="54" r="6"/><path fill="#FFF" d="M30,72a6,6,0,0,0-6,6v24a6,6,0,0,0,12,0V78A6,6,0,0,0,30,72Z"/><path fill="#FFF" d="M78,72a6,6,0,0,0-6,6v24a6,6,0,0,0,12,0V78A6,6,0,0,0,78,72Z"/><path fill="#FFF" d="M54,48a6,6,0,0,0-6,6v48a6,6,0,0,0,12,0V54A6,6,0,0,0,54,48Z"/><path fill="#FFF" d="M102,48a6,6,0,0,0-6,6v48a6,6,0,0,0,12,0V54A6,6,0,0,0,102,48Z"/></svg></a></div>
</body></html>
